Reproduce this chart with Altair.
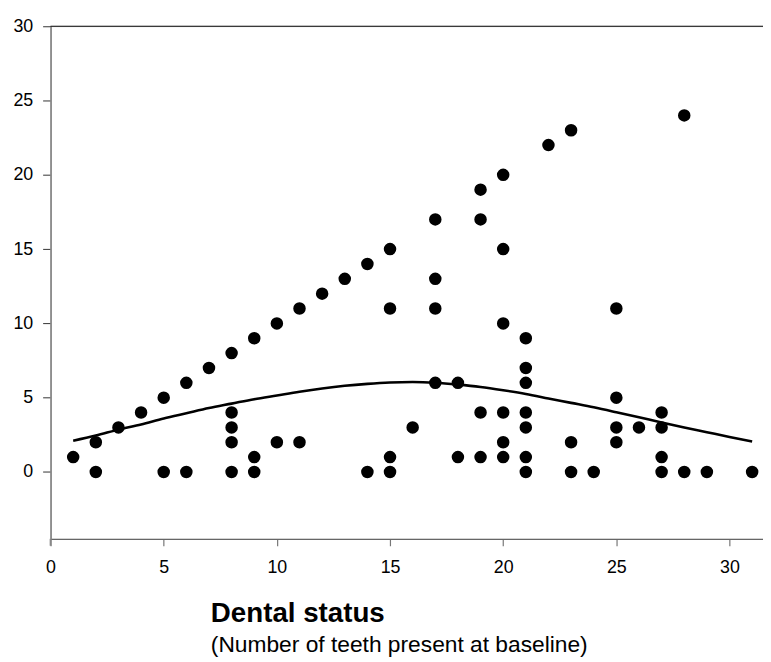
import altair as alt
import pandas as pd

# Scatter data: (teeth present at baseline, value)
pt_x = [1, 2, 2, 3, 4, 5, 5, 6, 6, 7,
        8, 8, 8, 8, 8, 9, 9, 9, 10, 10,
        11, 11, 12, 13, 14, 14, 15, 15, 15, 15,
        16, 17, 17, 17, 17, 18, 18, 19, 19, 19, 19,
        20, 20, 20, 20, 20, 20, 21, 21, 21, 21, 21, 21, 21,
        22, 23, 23, 23, 24, 25, 25, 25, 25, 26,
        27, 27, 27, 27, 28, 28, 29, 31]
pt_y = [1, 2, 0, 3, 4, 5, 0, 6, 0, 7,
        8, 4, 3, 2, 0, 9, 1, 0, 10, 2,
        11, 2, 12, 13, 14, 0, 15, 11, 1, 0,
        3, 17, 13, 11, 6, 6, 1, 19, 17, 4, 1,
        20, 15, 10, 4, 2, 1, 9, 7, 6, 4, 3, 1, 0,
        22, 23, 2, 0, 0, 11, 5, 3, 2, 3,
        4, 3, 1, 0, 24, 0, 0, 0]

# Fitted curve
curve_x = list(range(1, 32))
curve_y = [2.1, 2.45, 2.85, 3.2, 3.6, 3.95, 4.3, 4.6, 4.9, 5.15,
           5.4, 5.62, 5.8, 5.93, 6.02, 6.05, 6.0, 5.88, 5.72, 5.5,
           5.25, 4.95, 4.65, 4.35, 4.02, 3.68, 3.33, 3.0, 2.68, 2.36, 2.05]

y_ticks = [0, 5, 10, 15, 20, 25, 30]
x_ticks = [0, 5, 10, 15, 20, 25, 30]

FONT = "Liberation Sans, Arial, sans-serif"
W, H = 720, 518

pts = pd.DataFrame({"x": pt_x, "y": pt_y})
crv = pd.DataFrame({"x": curve_x, "y": curve_y})

xscale = alt.Scale(domain=[0, 31.48], nice=False, zero=False)
yscale = alt.Scale(domain=[-4.5, 30], nice=False, zero=False)

xaxis = alt.Axis(values=x_ticks, title=None, grid=False, domainColor="#666666",
                 domainWidth=1.2, tickColor="#777777", tickSize=7, tickWidth=1.2,
                 labelFont=FONT, labelFontSize=18, labelColor="#000000",
                 labelPadding=13, labelFlush=False)
yaxis = alt.Axis(values=y_ticks, title=None, grid=False, domainColor="#888888",
                 domainWidth=1.8, tickColor="#333333", tickSize=8, tickWidth=1,
                 labelFont=FONT, labelFontSize=18, labelColor="#000000",
                 labelPadding=10)

points = alt.Chart(pts).mark_circle(size=160, color="#000000", opacity=1).encode(
    x=alt.X("x:Q", scale=xscale, axis=xaxis),
    y=alt.Y("y:Q", scale=yscale, axis=yaxis),
)

line = alt.Chart(crv).mark_line(color="#000000", strokeWidth=2.6,
                                interpolate="monotone").encode(
    x=alt.X("x:Q", scale=xscale),
    y=alt.Y("y:Q", scale=yscale),
)

top_rule = alt.Chart(pd.DataFrame({"v": [30]})).mark_rule(
    color="#000000", strokeWidth=1.2).encode(y=alt.Y("v:Q", scale=yscale))

yext = alt.Chart(pd.DataFrame({"v": [0]})).mark_rule(
    color="#888888", strokeWidth=1.8).encode(
    x=alt.value(0), y=alt.value(H), y2=alt.value(H + 7))

title1 = alt.Chart(pd.DataFrame({"t": ["Dental status"]})).mark_text(
    font=FONT, fontSize=28, fontWeight="bold", align="left",
    baseline="alphabetic", color="#000000").encode(
    x=alt.value(162), y=alt.value(602), text="t:N")

title2 = alt.Chart(pd.DataFrame({"t": ["(Number of teeth present at baseline)"]})).mark_text(
    font=FONT, fontSize=23, align="left", baseline="alphabetic",
    color="#000000").encode(
    x=alt.value(162), y=alt.value(632), text="t:N")

chart = alt.layer(top_rule, yext, line, points, title1, title2).properties(
    width=W, height=H,
    autosize=alt.AutoSizeParams(type="none"),
    padding={"left": 43, "top": 15, "right": 0, "bottom": 118},
).configure_view(stroke=None).configure(background="#ffffff")

chart.save("out.html", embed_options={"renderer": "svg", "actions": False})
